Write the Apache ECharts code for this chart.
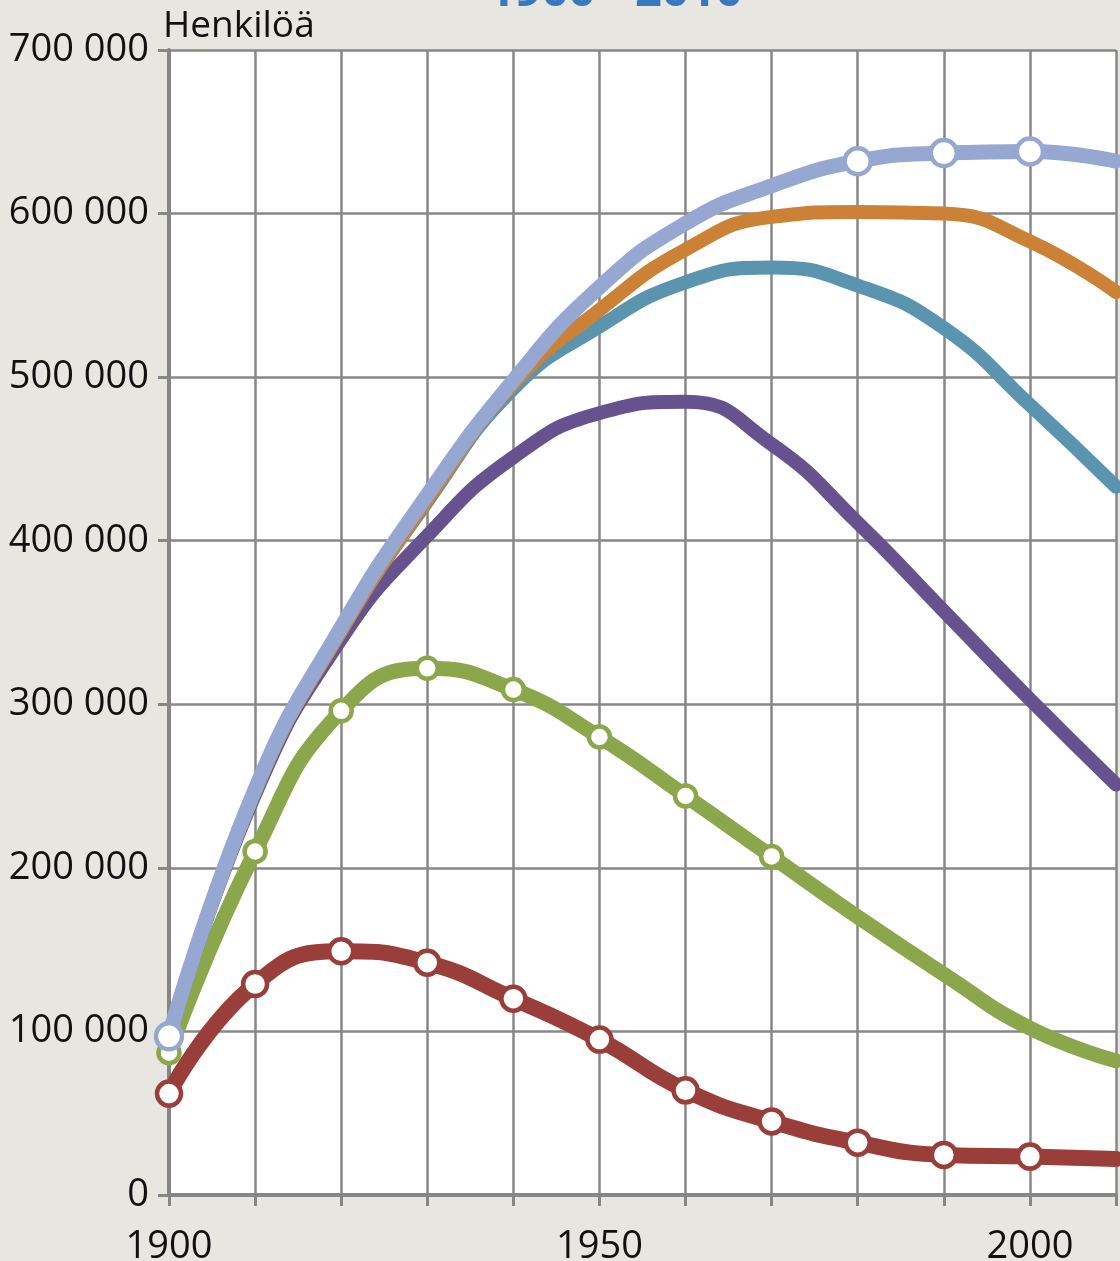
<!DOCTYPE html>
<html>
<head>
<meta charset="utf-8">
<script src="https://cdn.jsdelivr.net/npm/echarts@6/dist/echarts.min.js"></script>
<style>
  html, body { margin: 0; padding: 0; background: #e8e6e0; }
  #chart { width: 1120px; height: 1261px; }
</style>
</head>
<body>
<div id="chart"></div>
<script>
// vuodet ja sarjat (luettu kuvasta)
const years = [1900, 1910, 1920, 1930, 1940, 1950, 1960, 1970, 1980, 1990, 2000, 2010]

const redVals = [62000, 129000, 149000, 142000, 120000, 95000, 64000, 45000, 32000, 24500, 23500, 22000]
const greenVals = [87000, 210000, 296000, 322000, 309000, 280000, 244000, 207000, 170000, 135000, 102000, 82000]
const purpleVals = [97000, 245000, 340000, 403000, 451000, 478000, 485000, 459000, 411000, 357000, 303000, 251000]
const tealVals = [97000, 247000, 345000, 424000, 493000, 531000, 558000, 567000, 556000, 530000, 483000, 433000]
const orangeVals = [97000, 247000, 345000, 425000, 496000, 541000, 578000, 598000, 601000, 600000, 583000, 552000]
const blueVals = [97000, 248000, 347000, 428000, 498000, 555000, 594000, 617000, 632000, 637000, 638000, 632000]

// vuodet, joissa on ympyrämerkki
const redMarked = [1900, 1910, 1920, 1930, 1940, 1950, 1960, 1970, 1980, 1990, 2000]
const greenMarked = [1900, 1910, 1920, 1930, 1940, 1950, 1960, 1970]
const blueMarked = [1900, 1980, 1990, 2000]

const yTicks = [0, 100000, 200000, 300000, 400000, 500000, 600000, 700000]
const xLabels = [1900, 1950, 2000]

const FONT = 'Open Sans'

function toData(vals, marked) {
  return years.map((y, i) => ({
    value: [y, vals[i]],
    symbol: marked.includes(y) ? 'circle' : 'none',
  }))
}

function lineSeries(name, vals, marked, color, width, size) {
  return {
    name,
    type: 'line',
    smooth: 0.5,
    data: toData(vals, marked),
    symbolSize: size,
    showAllSymbol: true,
    lineStyle: { color, width, cap: 'round' },
    itemStyle: { color: '#ffffff', borderColor: color, borderWidth: 4.5 },
    emphasis: { disabled: true },
    z: 2,
  }
}

const chart = echarts.init(document.getElementById('chart'))

chart.setOption({
  backgroundColor: '#e8e6e0',
  animation: false,
  textStyle: { fontFamily: FONT },
  graphic: [
    {
      type: 'text',
      left: 488,
      top: -31,
      style: {
        text: '1900 - 2010',
        font: 'bold 47px "' + FONT + '"',
        fill: '#3a78bd',
      },
    },
    {
      type: 'text',
      left: 163,
      top: 8,
      style: {
        text: 'Henkilöä',
        font: '37px "' + FONT + '"',
        fill: '#111111',
      },
    },
  ],
  grid: {
    left: 169, right: 4, top: 50, bottom: 66,
    containLabel: false, outerBoundsMode: 'none',
    backgroundColor: '#ffffff', show: true, borderWidth: 0,
  },
  xAxis: {
    type: 'value',
    min: 1900,
    max: 2010,
    interval: 10,
    axisLine: { show: true, onZero: false, lineStyle: { color: '#868686', width: 4 } },
    axisTick: { show: true, length: 11, lineStyle: { color: '#868686', width: 3 } },
    splitLine: { show: true, lineStyle: { color: '#878787', width: 2.5 } },
    axisLabel: {
      margin: 33,
      color: '#111111',
      fontSize: 38,
      fontFamily: FONT,
      formatter: (v) => (xLabels.includes(v) ? String(v) : ''),
    },
  },
  yAxis: {
    type: 'value',
    min: yTicks[0],
    max: yTicks[yTicks.length - 1],
    interval: 100000,
    axisLine: { show: true, lineStyle: { color: '#868686', width: 4 } },
    axisTick: { show: true, length: 11, lineStyle: { color: '#868686', width: 3 } },
    splitLine: { show: true, lineStyle: { color: '#878787', width: 2.5 } },
    axisLabel: {
      margin: 20,
      color: '#111111',
      fontSize: 38,
      fontFamily: FONT,
      formatter: (v) => (v === 0 ? '0' : v / 1000 + ' 000'),
    },
  },
  series: [
    lineSeries('punainen', redVals, redMarked, '#9a3e39', 16, 24),
    lineSeries('vihreä', greenVals, greenMarked, '#8ca64b', 15, 21),
    lineSeries('violetti', purpleVals, [], '#66528f', 14, 18),
    lineSeries('turkoosi', tealVals, [], '#5b94ae', 14, 18),
    lineSeries('oranssi', orangeVals, [], '#cb8236', 14, 18),
    lineSeries('vaaleansininen', blueVals, blueMarked, '#96a7d2', 15, 26),
  ],
})
</script>
</body>
</html>
